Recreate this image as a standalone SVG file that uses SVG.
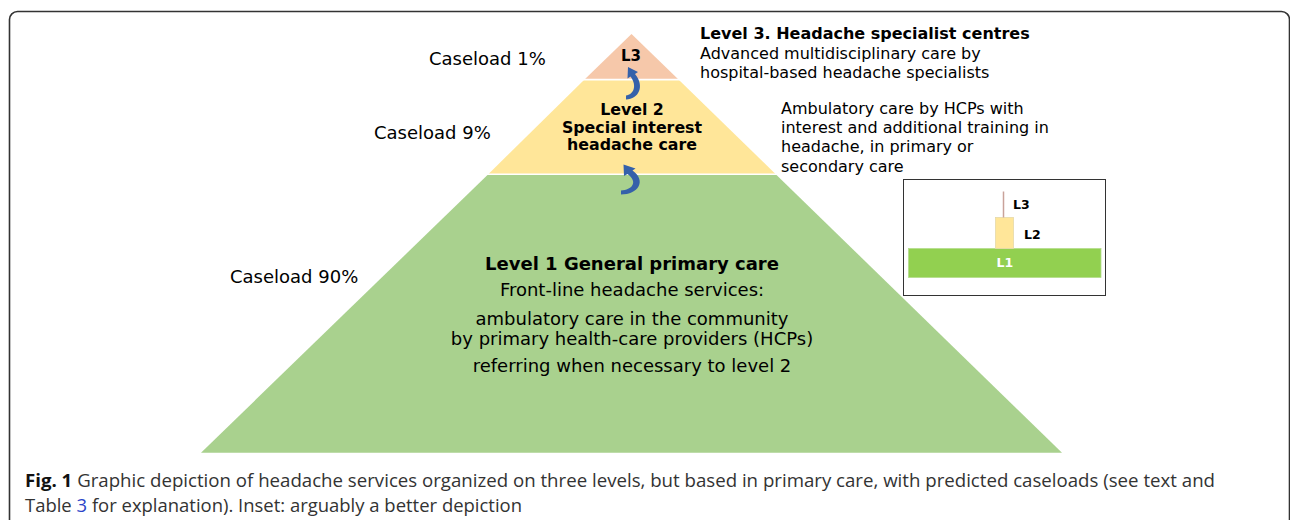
<svg xmlns="http://www.w3.org/2000/svg" width="1290" height="520" viewBox="0 0 1290 520">
  <style>
    .lbl { font-family: "DejaVu Sans", Verdana, sans-serif; fill: #000; }
    .load { font-size: 18px; }
    .desc { font-size: 16px; }
    .hd { font-size: 16px; font-weight: bold; }
    .mid { text-anchor: middle; }
    .cap { font-family: "Open Sans", "Liberation Sans", sans-serif; font-size: 18px; fill: #333; }
    .sep { stroke: #fff; stroke-width: 1.6; }
    .refer { fill: #3561AA; }
  </style>

  <!-- outer panel frame -->
  <path d="M9.5,530 V19.5 A8,8 0 0 1 17.5,11.5 H1281.5 A8,8 0 0 1 1289.5,19.5 V530" fill="none" stroke="#333" stroke-width="1.6"/>

  <!-- level 1 base -->
  <g id="level1">
    <polygon points="488,174.5 776,174.5 1062,452.7 201,452.7" fill="#A9D18E"/>
    <text class="lbl mid" x="632" y="269.5" font-size="18" font-weight="bold">Level 1 General primary care</text>
    <text class="lbl mid" x="632" y="296" font-size="18">Front-line headache services:</text>
    <text class="lbl mid" x="632" y="324.5" font-size="18">ambulatory care in the community</text>
    <text class="lbl mid" x="632" y="344.5" font-size="18">by primary health-care providers (HCPs)</text>
    <text class="lbl mid" x="632" y="372" font-size="18">referring when necessary to level 2</text>
  </g>

  <!-- level 2 band -->
  <g id="level2">
    <polygon points="584,80 679,80 776,174.5 488,174.5" fill="#FFE699"/>
    <text class="lbl mid" x="632" y="115" font-size="15.8" font-weight="bold">Level 2</text>
    <text class="lbl mid" x="632" y="132.5" font-size="15.8" font-weight="bold">Special interest</text>
    <text class="lbl mid" x="632" y="150" font-size="15.8" font-weight="bold">headache care</text>
  </g>

  <!-- level 3 apex -->
  <g id="level3">
    <polygon points="631.5,34 679,80 584,80" fill="#F6C8AA"/>
    <text class="lbl mid" x="631" y="61" font-size="15" font-weight="bold">L3</text>
  </g>

  <!-- white gaps between tiers -->
  <g id="separators">
    <line class="sep" x1="580" y1="79.6" x2="684" y2="79.6"/>
    <line class="sep" x1="484" y1="174.2" x2="780" y2="174.2"/>
  </g>

  <!-- referral arrows between tiers -->
  <g id="connectors">
    <path class="refer" d="M626,99.5 C639,99 645,86 635,74 L638,72 L628,67 L627.5,78.5 L630.5,76.5 C637.5,86 633.5,94.5 626,95.5 Z"/>
    <path class="refer" d="M621,194.5 C638,194.5 647,181 632.5,170.5 L635.5,168.5 L623.5,164.5 L624,176 L627.5,174 C638.5,182 632,190 621,190.5 Z"/>
  </g>

  <!-- caseload labels -->
  <g id="caseloads">
    <text class="lbl load" x="429" y="65">Caseload 1%</text>
    <text class="lbl load" x="374" y="139">Caseload 9%</text>
    <text class="lbl load" x="230" y="283">Caseload 90%</text>
  </g>

  <!-- level descriptions -->
  <g id="level3-desc">
    <text class="lbl hd" x="700" y="39">Level 3. Headache specialist centres</text>
    <text class="lbl desc" x="700" y="58.5">Advanced multidisciplinary care by</text>
    <text class="lbl desc" x="700" y="77.5">hospital-based headache specialists</text>
  </g>
  <g id="level2-desc">
    <text class="lbl desc" x="781" y="114">Ambulatory care by HCPs with</text>
    <text class="lbl desc" x="781" y="133.2">interest and additional training in</text>
    <text class="lbl desc" x="781" y="152.4">headache, in primary or</text>
    <text class="lbl desc" x="781" y="171.5">secondary care</text>
  </g>

  <!-- inset: proportional bars -->
  <g id="inset">
    <rect x="903.5" y="179.5" width="202" height="116" fill="#fff" stroke="#333" stroke-width="1"/>
    <rect x="908.5" y="248.5" width="192.5" height="29" fill="#92D050" stroke="#B5DC8C" stroke-width="0.8"/>
    <rect x="995.5" y="217.5" width="18" height="31" fill="#FFE699" stroke="#E6D9A8" stroke-width="0.8"/>
    <line x1="1003.5" y1="191.5" x2="1003.5" y2="217.5" stroke="#C9A29A" stroke-width="1.5"/>
    <text class="lbl" x="1013" y="208.5" font-size="12.5" font-weight="bold">L3</text>
    <text class="lbl" x="1024" y="238.5" font-size="12.5" font-weight="bold">L2</text>
    <text class="lbl" x="996.5" y="267" font-size="12.5" font-weight="bold" style="fill:#fff">L1</text>
  </g>

  <!-- figure caption -->
  <g id="caption">
    <text class="cap" x="25" y="486.5" textLength="1190" lengthAdjust="spacingAndGlyphs"><tspan font-weight="bold" fill="#111">Fig. 1</tspan> Graphic depiction of headache services organized on three levels, but based in primary care, with predicted caseloads (see text and</text>
    <text class="cap" x="25" y="512" textLength="497" lengthAdjust="spacingAndGlyphs">Table <tspan fill="#2B45C8">3</tspan> for explanation). Inset: arguably a better depiction</text>
  </g>
</svg>
